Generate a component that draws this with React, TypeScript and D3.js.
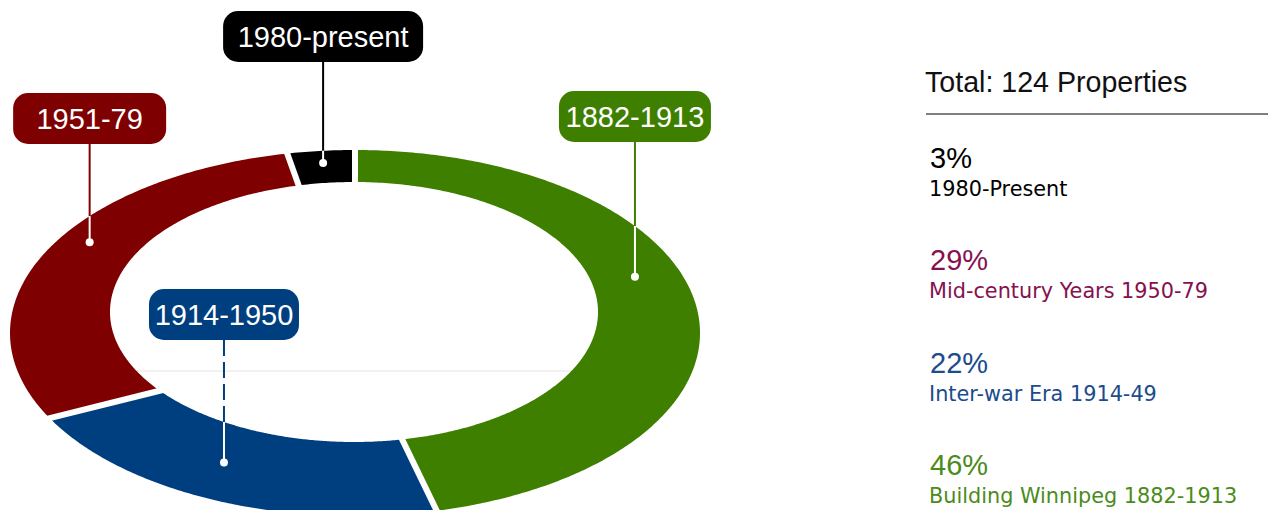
import * as d3 from "d3";

const eras = ["1882-1913", "1914-1950", "1951-79", "1980-present"];
const shares = [46, 22, 29, 3];
const colors = ["#3f7f00", "#003f7f", "#7f0000", "#000000"];

const totalLabel = "Total: 124 Properties";
const legendPercents = ["3%", "29%", "22%", "46%"];
const legendNames = ["1980-Present", "Mid-century Years 1950-79", "Inter-war Era 1914-49", "Building Winnipeg 1882-1913"];
const legendColors = ["#000000", "#85114f", "#1b4c8c", "#4b8b1b"];

// ring geometry: the donut is tilted, so the hole sits higher than the outer rim
const outer = { cx: 355, cy: 333, rx: 345, ry: 183 };
const inner = { cx: 354, cy: 312, rx: 244, ry: 130 };
const hub = { x: 355, y: 342 };

// where each callout sits (fraction along slice, depth in ring, box top and width)
const callouts: Record<string, { at: number, depth: number, top: number, w: number, dashed?: boolean }> = {
  "1882-1913": { at: 0.4, depth: 0.5, top: 91, w: 152 },
  "1914-1950": { at: 0.56, depth: 0.5, top: 289, w: 150, dashed: true },
  "1951-79": { at: 0.58, depth: 0.64, top: 93, w: 153 },
  "1980-present": { at: 0.5, depth: 0.62, top: 11, w: 200 },
};
const boxH = 51;

type Ell = { cx: number, cy: number, rx: number, ry: number };

const dir = (a: number) => {
  const dx = outer.rx * Math.sin(a);
  const dy = -outer.ry * Math.cos(a);
  const l = Math.hypot(dx, dy);
  return [dx / l, dy / l];
};

const hit = (e: Ell, a: number): [number, number] => {
  const [dx, dy] = dir(a);
  const ox = (hub.x - e.cx) / e.rx, oy = (hub.y - e.cy) / e.ry;
  const ux = dx / e.rx, uy = dy / e.ry;
  const A = ux * ux + uy * uy, B = 2 * (ox * ux + oy * uy), C = ox * ox + oy * oy - 1;
  const t = (-B + Math.sqrt(B * B - 4 * A * C)) / (2 * A);
  return [hub.x + t * dx, hub.y + t * dy];
};

const ellY = (e: Ell, x: number, side: number) =>
  e.cy + side * e.ry * Math.sqrt(Math.max(0, 1 - ((x - e.cx) / e.rx) ** 2));

const App = () => {
  const pie = d3.pie<number>().sort(null).startAngle(0).endAngle(2 * Math.PI);
  const arcs = pie(shares);
  const line = d3.line().curve(d3.curveLinearClosed);

  const slicePath = (s: number, e: number) => {
    const angles = d3.range(0, 1.0001, 1 / Math.max(10, Math.ceil((e - s) / 0.01))).map(f => s + f * (e - s));
    const pts = angles.map(a => hit(outer, a)).concat(angles.slice().reverse().map(a => hit(inner, a)));
    return line(pts);
  };

  const legendY = d3.scaleLinear().domain([0, 3]).range([168, 475]);

  return (
    <svg width={1271} height={510} style={{ position: "absolute", left: 0, top: 0 }}>
      <line x1={122} x2={575} y1={371} y2={371} stroke="#e6e2e6" strokeWidth={1} />

      {arcs.map((a, i) => (
        <path key={eras[i]} d={slicePath(a.startAngle, a.endAngle) as string} fill={colors[i]} />
      ))}
      {arcs.map((a, i) => {
        const [dx, dy] = dir(a.startAngle);
        const p0 = hit(inner, a.startAngle);
        const p1 = hit(outer, a.startAngle);
        return (
          <line key={"gap" + i} x1={p0[0] - dx * 4} y1={p0[1] - dy * 4} x2={p1[0] + dx * 4} y2={p1[1] + dy * 4}
            stroke="#fff" strokeWidth={6} />
        );
      })}

      {arcs.map((a, i) => {
        const c = callouts[eras[i]];
        const ang = a.startAngle + c.at * (a.endAngle - a.startAngle);
        const pi = hit(inner, ang), po = hit(outer, ang);
        const x = pi[0] + c.depth * (po[0] - pi[0]);
        const y = pi[1] + c.depth * (po[1] - pi[1]);
        const bottom = c.top + boxH;
        const inHole = ((x - inner.cx) / inner.rx) ** 2 + ((bottom - inner.cy) / inner.ry) ** 2 < 1;
        const entry = inHole ? ellY(inner, x, 1) : ellY(outer, x, -1);
        return (
          <g key={"lab" + i}>
            <line x1={x} x2={x} y1={bottom} y2={entry} stroke={colors[i]} strokeWidth={2}
              strokeDasharray={c.dashed ? "16 6" : undefined} />
            <line x1={x} x2={x} y1={entry} y2={y} stroke="#fff" strokeWidth={2} />
            <circle cx={x} cy={y} r={4} fill="#fff" />
            <rect x={x - c.w / 2} y={c.top} width={c.w} height={boxH} rx={15} fill={colors[i]} />
            <text x={x} y={c.top + boxH / 2 + 10} textAnchor="middle" fill="#fff"
              style={{ fontFamily: "'Liberation Sans', Arial, sans-serif", fontSize: 29 }}>{eras[i]}</text>
          </g>
        );
      })}

      <text x={925} y={92} style={{ fontFamily: "'Liberation Sans', Arial, sans-serif", fontSize: 28.6 }} fill="#111">{totalLabel}</text>
      <line x1={926} x2={1268} y1={114} y2={114} stroke="#555" strokeWidth={1.5} />
      {legendPercents.map((p, i) => (
        <g key={p}>
          <text x={930} y={legendY(i)} fill={legendColors[i]}
            style={{ fontFamily: "'Liberation Sans', Arial, sans-serif", fontSize: 29 }}>{p}</text>
          <text x={929} y={legendY(i) + 28} fill={legendColors[i]}
            style={{ fontFamily: "'DejaVu Sans', Verdana, sans-serif", fontSize: 20.8 }}>{legendNames[i]}</text>
        </g>
      ))}
    </svg>
  );
};

export default App;
